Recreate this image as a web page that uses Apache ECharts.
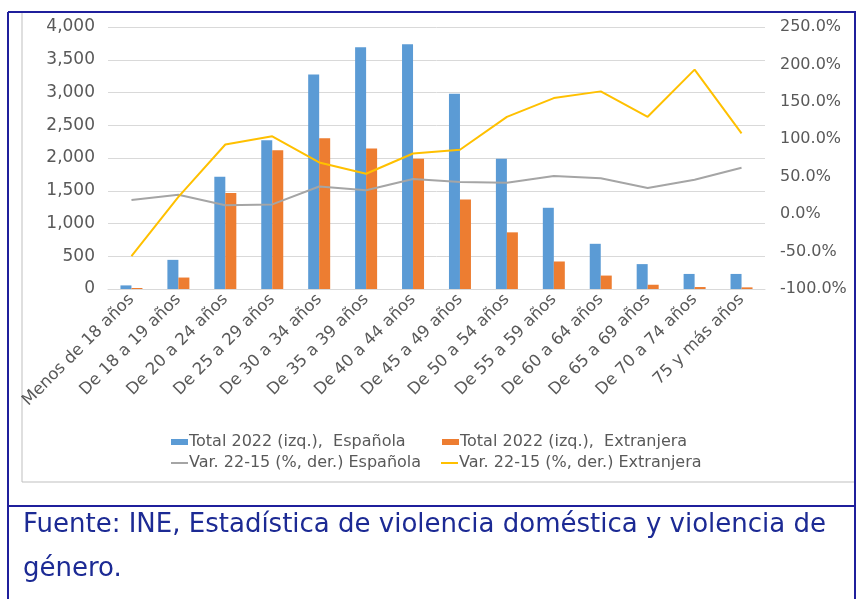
<!DOCTYPE html>
<html>
<head>
<meta charset="utf-8">
<script src="https://cdn.jsdelivr.net/npm/echarts@6/dist/echarts.min.js"></script>
<style>
    html, body { margin: 0; padding: 0; background: #fff; }
    #main { width: 856px; height: 599px; }
</style>
</head>
<body>
<div id="main"></div>
<script type="text/javascript">
// categorias de edad
var categorias = ['Menos de 18 años', 'De 18 a 19 años', 'De 20 a 24 años', 'De 25 a 29 años',
    'De 30 a 34 años', 'De 35 a 39 años', 'De 40 a 44 años', 'De 45 a 49 años', 'De 50 a 54 años',
    'De 55 a 59 años', 'De 60 a 64 años', 'De 65 a 69 años', 'De 70 a 74 años', '75 y más años'];

// Total 2022 (eje izq.)
var totalEspanola = [55, 445, 1715, 2270, 3275, 3690, 3735, 2980, 1990, 1240, 690, 380, 230, 230];
var totalExtranjera = [15, 175, 1465, 2120, 2300, 2145, 1990, 1365, 865, 420, 205, 65, 30, 25];

// Var. 22-15 en % (eje der.)
var varEspanola = [19, 26, 12, 13, 37, 32, 47, 43, 42, 51, 48, 35, 46, 62];
var varExtranjera = [-56, 23, 93, 104, 69, 54, 81, 86, 130, 155, 164, 130, 193, 108];

var nombres = ['Total 2022 (izq.),  Española', 'Total 2022 (izq.),  Extranjera',
    'Var. 22-15 (%, der.) Española', 'Var. 22-15 (%, der.) Extranjera'];

var fuente = ['Fuente: INE, Estadística de violencia doméstica y violencia de', 'género.'];

var gris = '#595959';
var azulMarco = '#1f1f9c';
var fuenteLetra = 'DejaVu Sans, Arial, sans-serif';

function leyenda(nombre, x, y, alto) {
    return {
        left: x, top: y,
        itemWidth: 17, itemHeight: alto, itemGap: 0,
        icon: 'rect',
        textStyle: { color: gris, fontSize: 16, padding: [0, 0, 0, -4] },
        data: [nombre]
    };
}

var option = {
    animation: false,
    textStyle: { fontFamily: fuenteLetra },
    grid: { left: 108, right: 91, top: 27, bottom: 310 },
    legend: [
        leyenda(nombres[0], 166, 429, 6),
        leyenda(nombres[1], 437, 429, 6),
        leyenda(nombres[2], 166, 450, 2),
        leyenda(nombres[3], 436, 450, 2)
    ],
    xAxis: {
        type: 'category',
        data: categorias,
        axisLine: { lineStyle: { color: '#d9d9d9' } },
        axisTick: { show: false },
        axisLabel: { interval: 0, rotate: 45, color: gris, fontSize: 16.5, margin: 8 }
    },
    yAxis: [
        {
            type: 'value',
            min: 0, max: 4000, interval: 500,
            axisLine: { show: false },
            axisTick: { show: false },
            splitLine: { lineStyle: { color: '#d9d9d9' } },
            axisLabel: {
                color: gris, fontSize: 17, margin: 13,
                formatter: function (v) { return v.toLocaleString('en-US'); }
            }
        },
        {
            type: 'value',
            min: -100, max: 250, interval: 50,
            axisLine: { show: false },
            axisTick: { show: false },
            splitLine: { show: false },
            axisLabel: {
                color: gris, fontSize: 16, margin: 15,
                formatter: function (v) { return v.toFixed(1) + '%'; }
            }
        }
    ],
    series: [
        {
            name: nombres[0], type: 'bar', data: totalEspanola,
            barWidth: 11, barGap: '0%',
            itemStyle: { color: '#5b9bd5' }
        },
        {
            name: nombres[1], type: 'bar', data: totalExtranjera,
            barWidth: 11, barGap: '0%',
            itemStyle: { color: '#ed7d31' }
        },
        {
            name: nombres[2], type: 'line', yAxisIndex: 1, data: varEspanola,
            symbol: 'none',
            lineStyle: { color: '#a5a5a5', width: 2 },
            itemStyle: { color: '#a5a5a5' }
        },
        {
            name: nombres[3], type: 'line', yAxisIndex: 1, data: varExtranjera,
            symbol: 'none',
            lineStyle: { color: '#ffc000', width: 2 },
            itemStyle: { color: '#ffc000' }
        }
    ],
    graphic: [
        // marco del grafico
        { type: 'line', shape: { x1: 22, y1: 12, x2: 22, y2: 482 }, style: { stroke: '#bfbfbf', lineWidth: 1 } },
        { type: 'line', shape: { x1: 22, y1: 482, x2: 854, y2: 482 }, style: { stroke: '#bfbfbf', lineWidth: 1 } },
        // marco azul
        { type: 'line', shape: { x1: 8, y1: 12, x2: 856, y2: 12 }, style: { stroke: azulMarco, lineWidth: 2 } },
        { type: 'line', shape: { x1: 8, y1: 12, x2: 8, y2: 599 }, style: { stroke: azulMarco, lineWidth: 2 } },
        { type: 'line', shape: { x1: 855, y1: 12, x2: 855, y2: 599 }, style: { stroke: azulMarco, lineWidth: 2 } },
        { type: 'line', shape: { x1: 8, y1: 506, x2: 856, y2: 506 }, style: { stroke: azulMarco, lineWidth: 2 } },
        // fuente
        {
            type: 'text', x: 23, y: 525,
            style: { text: fuente[0], fill: '#1c2a94', fontSize: 26, fontFamily: fuenteLetra, verticalAlign: 'middle' }
        },
        {
            type: 'text', x: 23, y: 569,
            style: { text: fuente[1], fill: '#1c2a94', fontSize: 26, fontFamily: fuenteLetra, verticalAlign: 'middle' }
        }
    ]
};

var chart = echarts.init(document.getElementById('main'));
chart.setOption(option);
</script>
</body>
</html>
